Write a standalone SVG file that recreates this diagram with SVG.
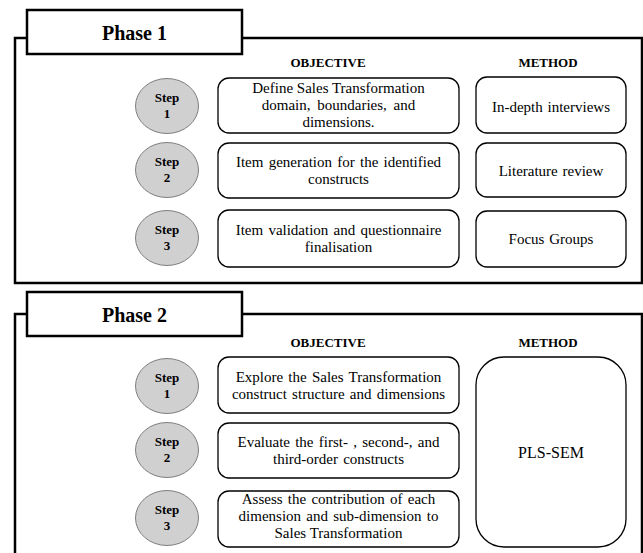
<svg xmlns="http://www.w3.org/2000/svg" width="643" height="553" viewBox="0 0 643 553" font-family="'Liberation Serif', 'DejaVu Serif', serif">
<style>
text{font-family:'Liberation Serif','DejaVu Serif',serif}
.frame{fill:none;stroke:#000;stroke-width:2.5}
.title{fill:#fff;stroke:#000;stroke-width:2.5}
.tt{font-weight:bold;font-size:20px;text-anchor:middle;fill:#000}
.hd{font-weight:bold;font-size:13px;text-anchor:middle;fill:#000}
.step{fill:#d0d0d0;stroke:#7f7f7f;stroke-width:1}
.st{font-weight:bold;font-size:13px;text-anchor:middle;fill:#000}
.box{fill:#fff;stroke:#000;stroke-width:1.3}
.bt{font-size:15px;text-anchor:middle;fill:#000}
</style>
<rect width="643" height="553" fill="#fff"/>
<g id="phase1">
<rect class="frame" x="15" y="38" width="627" height="245"/>
<rect class="title" x="27" y="10" width="215" height="44"/>
<text class="tt" x="134.5" y="39.5">Phase 1</text>
<text class="hd" x="328" y="67">OBJECTIVE</text>
<text class="hd" x="548" y="67">METHOD</text>
</g>
<g id="p1-step1">
<ellipse class="step" cx="167" cy="106" rx="31.5" ry="27.5"/>
<text class="st" x="167" y="102">Step</text>
<text class="st" x="167" y="118">1</text>
</g>
<g id="p1-obj1">
<rect class="box" x="218" y="78" width="241" height="55" rx="11"/>
<text class="bt" x="338.5" y="93">Define Sales Transformation</text>
<text class="bt" x="338.5" y="110" word-spacing="3">domain, boundaries, and</text>
<text class="bt" x="338.5" y="127">dimensions.</text>
</g>
<g id="p1-met1">
<rect class="box" x="476" y="77" width="150" height="56" rx="11"/>
<text class="bt" x="551" y="112" word-spacing="1">In-depth interviews</text>
</g>
<g id="p1-step2">
<ellipse class="step" cx="167" cy="170" rx="31.5" ry="27.5"/>
<text class="st" x="167" y="166">Step</text>
<text class="st" x="167" y="182">2</text>
</g>
<g id="p1-obj2">
<rect class="box" x="218" y="143" width="241" height="55" rx="11"/>
<text class="bt" x="338.5" y="167" word-spacing="1.5">Item generation for the identified</text>
<text class="bt" x="338.5" y="184">constructs</text>
</g>
<g id="p1-met2">
<rect class="box" x="476" y="143" width="150" height="54" rx="11"/>
<text class="bt" x="551" y="176" word-spacing="1">Literature review</text>
</g>
<g id="p1-step3">
<ellipse class="step" cx="167" cy="238" rx="31.5" ry="27.5"/>
<text class="st" x="167" y="234">Step</text>
<text class="st" x="167" y="250">3</text>
</g>
<g id="p1-obj3">
<rect class="box" x="218" y="210" width="241" height="57" rx="11"/>
<text class="bt" x="338.5" y="235" word-spacing="1.5">Item validation and questionnaire</text>
<text class="bt" x="338.5" y="252">finalisation</text>
</g>
<g id="p1-met3">
<rect class="box" x="476" y="211" width="150" height="56" rx="11"/>
<text class="bt" x="551" y="244" word-spacing="1">Focus Groups</text>
</g>
<g id="phase2">
<rect class="frame" x="15" y="314" width="627" height="260"/>
<rect class="title" x="27" y="292" width="215" height="44"/>
<text class="tt" x="134.5" y="321.5">Phase 2</text>
<text class="hd" x="328" y="347">OBJECTIVE</text>
<text class="hd" x="548" y="347">METHOD</text>
</g>
<g id="p2-step1">
<ellipse class="step" cx="167" cy="386" rx="31.5" ry="27.5"/>
<text class="st" x="167" y="382">Step</text>
<text class="st" x="167" y="398">1</text>
</g>
<g id="p2-obj1">
<rect class="box" x="218" y="357" width="241" height="56" rx="11"/>
<text class="bt" x="338.5" y="382" word-spacing="1.5">Explore the Sales Transformation</text>
<text class="bt" x="338.5" y="399" word-spacing="1.5">construct structure and dimensions</text>
</g>
<g id="p2-step2">
<ellipse class="step" cx="167" cy="450" rx="31.5" ry="27.5"/>
<text class="st" x="167" y="446">Step</text>
<text class="st" x="167" y="462">2</text>
</g>
<g id="p2-obj2">
<rect class="box" x="218" y="423" width="241" height="55" rx="11"/>
<text class="bt" x="338.5" y="447" word-spacing="1.5">Evaluate the first- , second-, and</text>
<text class="bt" x="338.5" y="464" word-spacing="1.5">third-order constructs</text>
</g>
<g id="p2-step3">
<ellipse class="step" cx="167" cy="518" rx="31.5" ry="27.5"/>
<text class="st" x="167" y="514">Step</text>
<text class="st" x="167" y="530">3</text>
</g>
<g id="p2-obj3">
<rect class="box" x="218" y="491" width="241" height="56" rx="11"/>
<text class="bt" x="338.5" y="504" word-spacing="1.5">Assess the contribution of each</text>
<text class="bt" x="338.5" y="521" word-spacing="1.5">dimension and sub-dimension to</text>
<text class="bt" x="338.5" y="538">Sales Transformation</text>
</g>
<g id="p2-met">
<rect class="box" x="476" y="357" width="150" height="190" rx="28"/>
<text class="bt" x="551" y="458" style="font-size:16px">PLS-SEM</text>
</g>
<g id="connectors"></g>
</svg>
